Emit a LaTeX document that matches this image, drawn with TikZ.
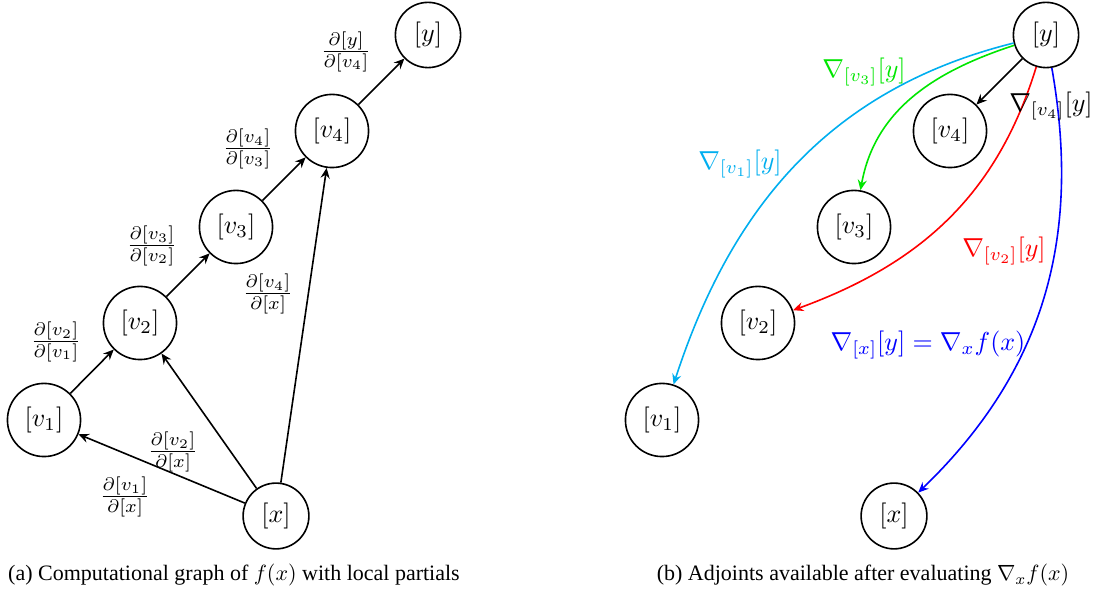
\RequirePackage{fix-cm}
\documentclass[tikz,border=0pt]{standalone}
\usepackage{graphicx}
\usepackage[no-math]{fontspec}
\setmainfont{Liberation Serif}
\usetikzlibrary{arrows.meta}

\definecolor{gcyan}{RGB}{0,174,239}
\definecolor{ggreen}{RGB}{0,230,0}

% all math in the graphs is set at 10pt and enlarged uniformly
\newcommand{\gm}[1]{\scalebox{1.3}{$#1$}}

\tikzset{
  var/.style={circle, draw, line width=0.8pt, inner sep=4.75pt},
  partial/.style={inner sep=0pt},
  adj/.style={inner sep=0pt},
  flow/.style={line width=0.8pt,
               -{Stealth[length=5.2pt,width=4.6pt,inset=1.8pt]}},
  capt/.style={font=\fontsize{11}{13}\selectfont, anchor=base, inner sep=0pt}
}

\begin{document}
\begin{tikzpicture}[x=0.5pt,y=0.5pt]
\useasboundingbox (0,0) rectangle (1098,592);

% ---------- (a) forward graph with local partials ----------
\node[var] (y)  at (428,557) {\gm{[y]}};
\node[var] (v4) at (332,461) {\gm{[v_4]}};
\node[var] (v3) at (236,365) {\gm{[v_3]}};
\node[var] (v2) at (140,269) {\gm{[v_2]}};
\node[var] (v1) at (44,172)  {\gm{[v_1]}};
\node[var] (x)  at (276,76)  {\gm{[x]}};

\draw[flow] (v1) -- (v2);
\draw[flow] (v2) -- (v3);
\draw[flow] (v3) -- (v4);
\draw[flow] (v4) -- (y);
\draw[flow] (x) -- (v1);
\draw[flow] (x) -- (v2);
\draw[flow] (x) -- (v4);

\node[partial] (dyv4)  at (346,540) {\gm{\frac{\partial[y]}{\partial[v_4]}}};
\node[partial] (dv4v3) at (248,443) {\gm{\frac{\partial[v_4]}{\partial[v_3]}}};
\node[partial] (dv3v2) at (152,346) {\gm{\frac{\partial[v_3]}{\partial[v_2]}}};
\node[partial] (dv2v1) at (56,250)  {\gm{\frac{\partial[v_2]}{\partial[v_1]}}};
\node[partial] (dv4x)  at (268,298) {\gm{\frac{\partial[v_4]}{\partial[x]}}};
\node[partial] (dv2x)  at (173,140) {\gm{\frac{\partial[v_2]}{\partial[x]}}};
\node[partial] (dv1x)  at (125,95)  {\gm{\frac{\partial[v_1]}{\partial[x]}}};

\node[capt] (capa) at (234,11) {(a) Computational graph of $f(x)$ with local partials};

% ---------- (b) adjoints after the reverse sweep ----------
\node[var] (by)  at (1046,557) {\gm{[y]}};
\node[var] (bv4) at (950,461)  {\gm{[v_4]}};
\node[var] (bv3) at (854,365)  {\gm{[v_3]}};
\node[var] (bv2) at (758,269)  {\gm{[v_2]}};
\node[var] (bv1) at (662,172)  {\gm{[v_1]}};
\node[var] (bx)  at (894,76)   {\gm{[x]}};

\draw[flow, gcyan]  (by) to[out=194, in=72] (bv1);
\draw[flow, ggreen] (by) to[out=198, in=80] (bv3);
\draw[flow] (by) -- (bv4);
\draw[flow, red]    (by) to[out=253, in=20] (bv2);
\draw[flow, blue]   (by) to[out=280, in=44] (bx);

\node[adj, ggreen] (gv3) at (864,520)  {\gm{\nabla_{[v_3]}[y]}};
\node[adj]         (gv4) at (1051,486) {\gm{\nabla_{[v_4]}[y]}};
\node[adj, gcyan]  (gv1) at (740,428)  {\gm{\nabla_{[v_1]}[y]}};
\node[adj, red]    (gv2) at (1004,341) {\gm{\nabla_{[v_2]}[y]}};
\node[adj, blue]   (gx)  at (928,247)  {\gm{\nabla_{[x]}[y] = \nabla_x f(x)}};

\node[capt] (capb) at (863,11) {(b) Adjoints available after evaluating $\nabla_x f(x)$};
\end{tikzpicture}
\end{document}
